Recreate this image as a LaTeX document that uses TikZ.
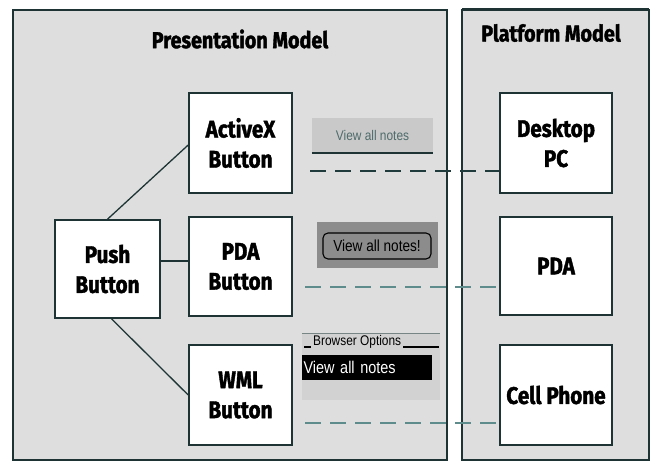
\documentclass[tikz,border=0pt]{standalone}
\usepackage{fontspec}
\setmainfont{Fira Sans}[FakeStretch=0.86,BoldFeatures={FakeBold=1.6}]
\newfontfamily\uifont{Liberation Sans}[FakeStretch=0.85]
\definecolor{panelfill}{HTML}{DEDEDE}
\definecolor{edge}{HTML}{1E3434}
\definecolor{linkdark}{HTML}{1F3B3B}
\definecolor{linklight}{HTML}{5E8C8C}
\definecolor{btnfill}{HTML}{C9C9C9}
\definecolor{btntext}{HTML}{4F6B6B}
\definecolor{darkwidget}{HTML}{8C8C8C}
\definecolor{lightwidget}{HTML}{D2D2D2}
\begin{document}
\begin{tikzpicture}[x=1pt,y=-1pt,
  panel/.style={draw=edge,fill=panelfill,line width=1.2pt},
  title/.style={font=\bfseries\fontsize{23}{26}\selectfont,text=black},
  box/.style={draw=edge,fill=white,line width=1.6pt,align=center,
    font=\bfseries\fontsize{24}{30}\selectfont,inner sep=0pt},
  link/.style={draw=edge,line width=1.3pt},
  dashlink/.style={line width=2pt,dash pattern=on 16pt off 9pt}]
  \useasboundingbox (0,0) rectangle (655,462);
  \fill[white] (0,0) rectangle (655,462);

  % the two model panels
  \draw[panel] (13,10) rectangle (447,460);
  \draw[panel] (462,10) rectangle (649,460);
  \draw[edge,line width=2.4pt] (462,9) -- (649,9);
  \node[title] (ptitle) at (240,39) {Presentation Model};
  \node[title] (mtitle) at (551,33) {Platform Model};

  % presentation model nodes
  \node[box,minimum width=105pt,minimum height=98pt] (push) at (107.5,269) {Push\\Button};
  \node[box,minimum width=103pt,minimum height=100pt] (activex) at (240.5,143) {ActiveX\\Button};
  \node[box,minimum width=103pt,minimum height=99pt] (pdab) at (240.5,266.5) {PDA\\Button};
  \node[box,minimum width=103pt,minimum height=100pt] (wml) at (240.5,395) {WML\\Button};

  % platform model nodes
  \node[box,minimum width=112pt,minimum height=100pt] (desktop) at (556,143) {Desktop\\PC};
  \node[box,minimum width=112pt,minimum height=98pt] (pda) at (556,266) {PDA};
  \node[box,minimum width=112pt,minimum height=100pt] (cell) at (556,395) {Cell Phone};

  % specialisation links
  \draw[link] (push.north) -- ([yshift=-2pt]activex.west);
  \draw[link] ([yshift=8pt]push.east) -- ([yshift=8pt]push.east -| pdab.west);
  \draw[link] ([xshift=4pt]push.south) -- (wml.west);

  % rendered widgets
  \node[draw=none,fill=btnfill,minimum width=121pt,minimum height=35pt,inner sep=0pt,
        font=\uifont\fontsize{14}{15}\selectfont,text=btntext] (w1) at (372.5,135.5) {View all notes};
  \draw[edge,line width=1.8pt] (w1.south west) -- (w1.south east);

  \node[fill=darkwidget,minimum width=121pt,minimum height=46pt,inner sep=0pt] (w2) at (377.5,245) {};
  \node[draw=black,line width=1.1pt,rounded corners=5pt,minimum width=108pt,minimum height=26pt,
        inner sep=0pt,font=\uifont\fontsize{16}{17}\selectfont] (w2b) at (377,246) {View all notes!};

  \node[fill=lightwidget,minimum width=138pt,minimum height=67pt,inner sep=0pt] (w3) at (371,366.5) {};
  \draw[edge!60,line width=0.6pt] (w3.north west) -- (w3.north east);
  \node[font=\uifont\fontsize{14}{15}\selectfont,inner sep=0pt,anchor=west] (w3t) at (313,342) {Browser Options};
  \coordinate (u0) at (304,347);
  \path (w3t.east) ++(2pt,0) coordinate (u1);
  \draw[black,line width=1.2pt] (u0) -- ++(7,0) (u1 |- u0) -- (439,347);
  \node[fill=black,text=white,minimum width=130pt,minimum height=25pt,inner sep=0pt,
        font=\uifont\fontsize{17}{18}\selectfont,text width=127pt] (w3b) at (367,367.5) {View all notes};

  % realisation links to platforms
  \coordinate (s1) at (310,171);
  \coordinate (s2) at (305,287);
  \coordinate (s3) at (305,423);
  \draw[dashlink,linkdark] (s1) -- (s1 -| desktop.west);
  \draw[dashlink,linklight] (s2) -- (s2 -| pda.west);
  \draw[dashlink,linklight] (s3) -- (s3 -| cell.west);
\end{tikzpicture}
\end{document}
